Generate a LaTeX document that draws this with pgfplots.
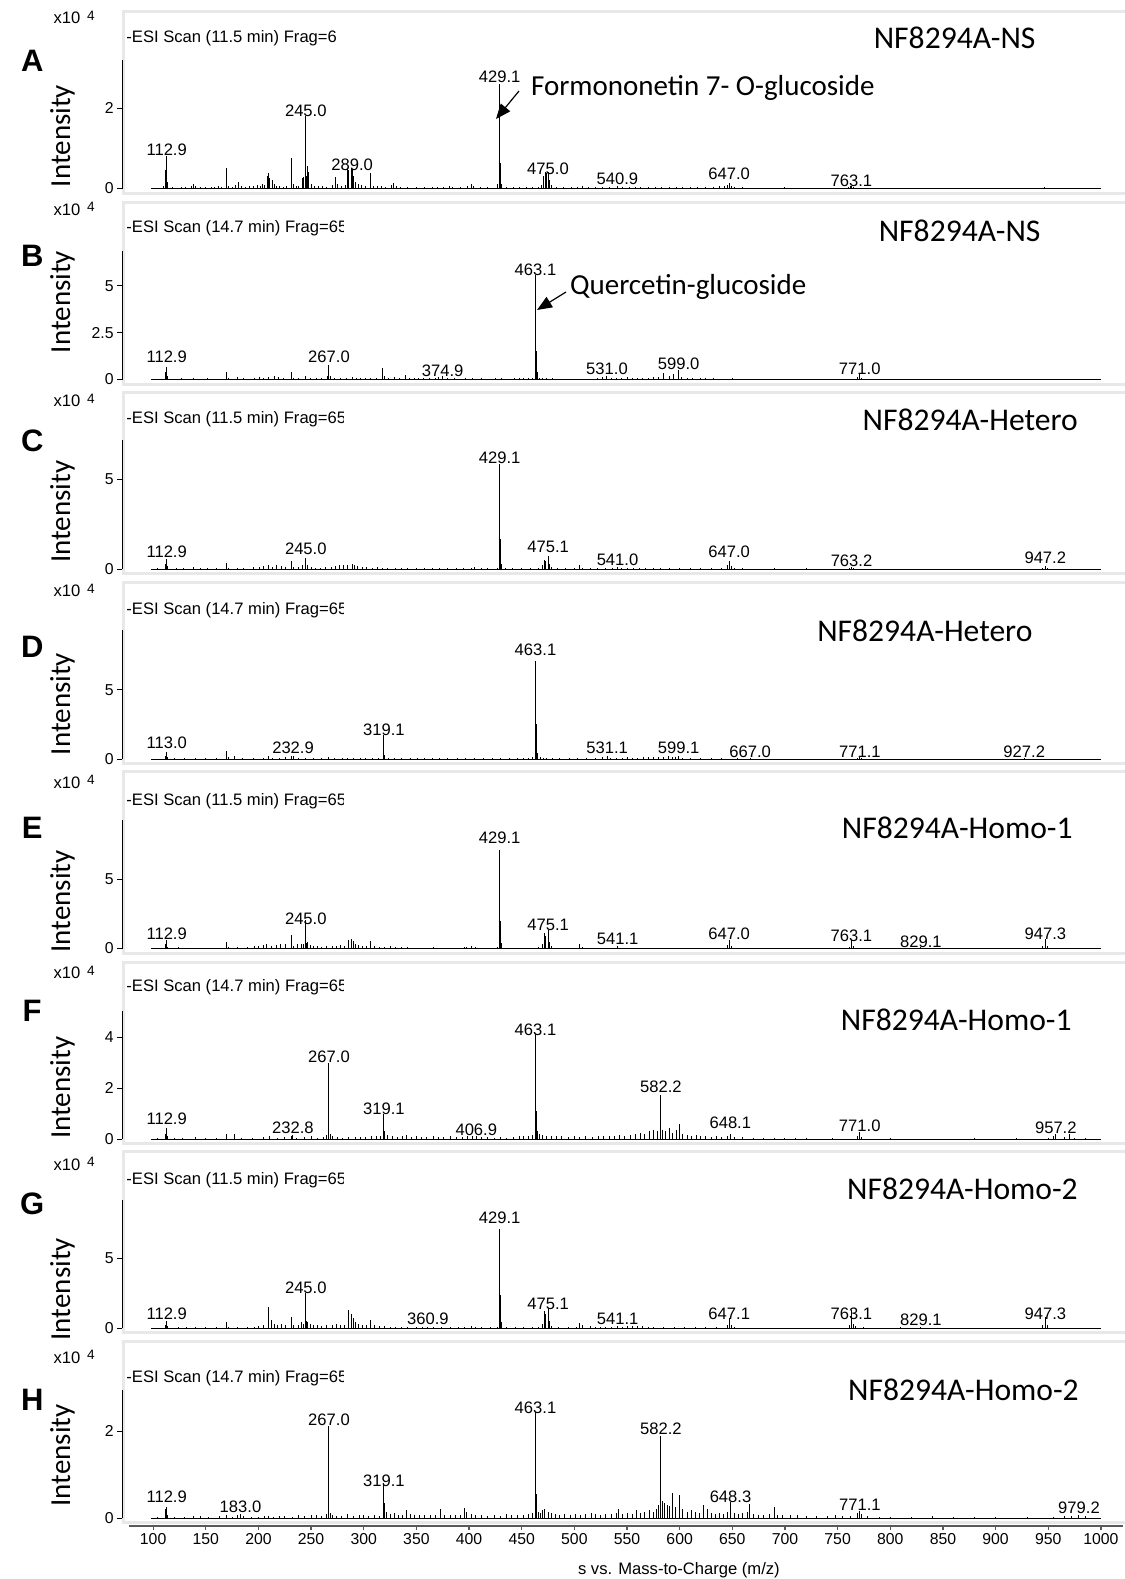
\documentclass[border=0pt]{standalone}
\usepackage{pgfplots}
\pgfplotsset{compat=1.18}
\usepackage{fontspec}
\setmainfont{Liberation Sans}
\newfontfamily\calib{Carlito}
\usetikzlibrary{arrows.meta}

\newcommand\fA{\fontsize{8.3}{9.9}\selectfont}
\newcommand\fT{\fontsize{7.9}{9.4}\selectfont}
\newcommand\fC{\calib\fontsize{14.5}{17}\selectfont}
\newcommand\fS{\calib\fontsize{15.8}{18}\selectfont}
\newcommand\pk[2]{\node[font=\fA, inner sep=0pt] at (axis cs:#1,#2) {#1};}

\pgfplotsset{
  panel/.style={scale only axis, width=500.5pt, height=64.25pt,
    xmin=70.47, xmax=1021, ymin=0, anchor=south west,
    axis lines*=left, x axis line style={draw=none}, xtick=\empty,
    y axis line style={black, line width=0.5pt},
    ytick style={black, line width=0.5pt}, tick align=outside,
    major tick length=2.5pt,
    yticklabel style={font=\fT, inner sep=1.5pt},
    /pgf/number format/assume math mode=true, clip=false},
  base/.style={black, line width=0.5pt},
  stick/.style={ycomb, black, line width=0.5pt, mark=none}
}

\begin{document}
\begin{tikzpicture}
\begin{scope}[x=0.5pt, y=-0.5pt]
\useasboundingbox (0,0) rectangle (1123,1579);
% frames
\foreach \z in {188.5,379.5,569,759,948.5,1139,1328,1518}{
  \draw[black!9, line width=1.5pt] (123.5,\z-177) rectangle (1140,\z+4.5);
}
% panel letters
\foreach \t/\yy in {A/60.4,B/255.8,C/441.2,D/646.6,E/827.9,F/1011.2,G/1203.6,H/1400}{
  \node[font=\fontsize{15.5}{18}\selectfont\bfseries] at (32.2,\yy) {\t};
}
% Intensity
\foreach \yy in {136,302,511.7,704,901.4,1087.8,1289.2,1455.4}{
  \node[font=\fC, rotate=90] at (62.4,\yy) {Intensity};
}
% x10^4
\foreach \yy in {18.1,209.5,400.9,591.2,782.6,973,1164.3,1357.7}{
  \node[font=\fA] at (67,\yy) {x10};
  \node[font=\fontsize{6.8}{8}\selectfont] at (91,\yy-2.5) {4};
}
% ESI texts
\node[font=\fA, anchor=west, inner sep=0pt] at (126,38.3) {-ESI Scan (11.5 min) Frag=6};
\begin{scope}
\clip (120,0) rectangle (343,1579);
\node[font=\fA, anchor=west, inner sep=0pt] at (126,228.6) {-ESI Scan (14.7 min) Frag=65};
\node[font=\fA, anchor=west, inner sep=0pt] at (126,419) {-ESI Scan (11.5 min) Frag=65};
\node[font=\fA, anchor=west, inner sep=0pt] at (126,610.4) {-ESI Scan (14.7 min) Frag=65};
\node[font=\fA, anchor=west, inner sep=0pt] at (126,800.7) {-ESI Scan (11.5 min) Frag=65};
\node[font=\fA, anchor=west, inner sep=0pt] at (126,987) {-ESI Scan (14.7 min) Frag=65};
\node[font=\fA, anchor=west, inner sep=0pt] at (126,1180.4) {-ESI Scan (11.5 min) Frag=65};
\node[font=\fA, anchor=west, inner sep=0pt] at (126,1377.8) {-ESI Scan (14.7 min) Frag=65};
\end{scope}
% sample names
\node[font=\fS, anchor=east] at (1042.5,38.3) {NF8294A-NS};
\node[font=\fS, anchor=east] at (1047.5,230.6) {NF8294A-NS};
\node[font=\fS, anchor=east] at (1084.8,420) {NF8294A-Hetero};
\node[font=\fS, anchor=east] at (1039.4,630.5) {NF8294A-Hetero};
\node[font=\fS, anchor=east] at (1079.7,827.9) {NF8294A-Homo-1};
\node[font=\fS, anchor=east] at (1078.7,1020.3) {NF8294A-Homo-1};
\node[font=\fS, anchor=east] at (1084.8,1188.5) {NF8294A-Homo-2};
\node[font=\fS, anchor=east] at (1085.8,1390) {NF8294A-Homo-2};
% annotations
\node[font=\fC, anchor=west] at (524,88) {Formononetin 7- O-glucoside};
\draw[-{Triangle[length=7.5pt,width=6pt]}, line width=0.6pt] (519,91) -- (496,119);
\node[font=\fC, anchor=west] at (563,287) {Quercetin-glucoside};
\draw[-{Triangle[length=7.5pt,width=6pt]}, line width=0.6pt] (566,292) -- (537,310);
% x label
\node[font=\fA, anchor=west] at (571,1570) {s vs. Mass-to-Charge (m/z)};
\end{scope}

% ---------- A ----------
\begin{axis}[panel, at={(61pt,-94.25pt)}, ymax=3.2, ytick={0,2}]
\addplot[base] coordinates {(98,0)(1000,0)};
\addplot[stick] coordinates {(105,0.02)(110,0.05)(111.9,0.45)(112.9,0.8)(113.9,0.15)(118,0.03)(124,0.02)(127,0.03)(131,0.04)(136,0.06)(138,0.1)(140,0.06)(145,0.03)(150,0.03)(155,0.04)(158,0.03)(162,0.05)(165,0.03)(170,0.52)(172,0.05)(175,0.04)(178,0.08)(181,0.15)(184,0.05)(188,0.04)(192,0.06)(195,0.05)(199,0.08)(202,0.07)(204,0.12)(206,0.08)(209,0.3)(210,0.38)(211,0.25)(213,0.2)(215,0.12)(217,0.06)(220,0.05)(224,0.04)(227,0.06)(231,0.77)(233,0.1)(236,0.06)(238,0.05)(242,0.25)(243,0.28)(245,1.8)(246,0.3)(247,0.57)(248,0.4)(250,0.1)(253,0.06)(257,0.05)(261,0.06)(265,0.04)(270,0.08)(273,0.29)(275,0.1)(279,0.05)(283,0.08)(285,0.48)(286,0.45)(288,0.5)(289,0.48)(290,0.3)(292,0.15)(295,0.1)(298,0.08)(302,0.06)(306,0.39)(309,0.05)(313,0.06)(317,0.05)(321,0.04)(326,0.08)(328,0.13)(331,0.06)(335,0.04)(342,0.03)(350,0.03)(358,0.03)(365,0.04)(370,0.03)(376,0.03)(381,0.06)(384,0.04)(392,0.03)(399,0.06)(402,0.12)(404,0.05)(411,0.04)(418,0.03)(427,0.1)(429.1,2.6)(430.1,0.63)(431,0.1)(436,0.03)(442,0.03)(448,0.04)(455,0.03)(460,0.03)(466,0.04)(469,0.08)(471,0.3)(473,0.4)(474,0.38)(475,0.42)(476,0.2)(478,0.08)(483,0.04)(490,0.03)(497,0.04)(503,0.03)(508,0.05)(513,0.03)(520,0.04)(527,0.03)(533,0.03)(540.9,0.05)(546,0.04)(552,0.03)(558,0.04)(563,0.03)(570,0.03)(577,0.04)(583,0.03)(590,0.03)(597,0.04)(603,0.03)(610,0.04)(617,0.03)(625,0.03)(632,0.04)(638,0.05)(643,0.06)(645,0.08)(647,0.13)(649,0.07)(652,0.03)(660,0.03)(680,0.02)(700,0.03)(720,0.02)(760,0.04)(762,0.05)(763.1,0.06)(765,0.03)(790,0.02)(830,0.02)(870,0.02)(910,0.02)(946,0.03)(960,0.02)};
\pk{112.9}{0.955}\pk{245.0}{1.93}\pk{289.0}{0.6}\pk{429.1}{2.79}\pk{475.0}{0.5}\pk{540.9}{0.23}\pk{647.0}{0.36}\pk{763.1}{0.2}
\end{axis}

% ---------- B ----------
\begin{axis}[panel, at={(61pt,-189.75pt)}, ymax=6.87, ytick={0,2.5,5}]
\addplot[base] coordinates {(98,0)(1000,0)};
\addplot[stick] coordinates {(104,0.03)(111.9,0.4)(112.9,0.66)(113.9,0.2)(120,0.05)(127,0.06)(138,0.08)(145,0.05)(152,0.06)(158,0.05)(170,0.4)(172,0.1)(180,0.12)(186,0.06)(196,0.1)(201,0.12)(205,0.08)(210,0.15)(215,0.2)(219,0.12)(224,0.1)(231,0.4)(233,0.1)(238,0.06)(245,0.2)(249,0.1)(255,0.08)(260,0.06)(266,0.2)(267,0.75)(268,0.2)(272,0.06)(278,0.08)(284,0.1)(289,0.15)(293,0.1)(297,0.08)(302,0.1)(306,0.06)(312,0.08)(318,0.62)(320,0.2)(324,0.08)(329,0.12)(334,0.06)(340,0.22)(343,0.08)(348,0.06)(352,0.1)(357,0.06)(362,0.08)(368,0.1)(371,0.12)(374.9,0.18)(380,0.06)(386,0.1)(391,0.05)(397,0.06)(403,0.08)(412,0.06)(418,0.05)(425,0.06)(431,0.08)(437,0.05)(443,0.1)(448,0.08)(452,0.1)(456,0.06)(460,0.1)(463.1,5.6)(464.1,1.5)(465.1,0.4)(467,0.1)(470,0.08)(474,0.06)(479,0.06)(484,0.05)(489,0.05)(495,0.04)(502,0.05)(510,0.04)(516,0.05)(522,0.06)(527,0.15)(531,0.18)(535,0.06)(540,0.08)(545,0.1)(550,0.12)(555,0.08)(560,0.1)(565,0.08)(570,0.1)(575,0.12)(580,0.15)(585,0.35)(590,0.2)(594,0.3)(599,0.5)(602,0.12)(607,0.08)(612,0.06)(620,0.08)(625,0.06)(632,0.06)(640,0.05)(650,0.06)(660,0.04)(690,0.05)(720,0.05)(750,0.03)(769,0.15)(771,0.3)(773,0.1)(800,0.03)(850,0.02)(900,0.02)(950,0.02)};
\pk{112.9}{1.23}\pk{267.0}{1.23}\pk{374.9}{0.48}\pk{463.1}{5.86}\pk{531.0}{0.58}\pk{599.0}{0.85}\pk{771.0}{0.58}
\end{axis}

% ---------- C ----------
\begin{axis}[panel, at={(61pt,-284.5pt)}, ymax=7.17, ytick={0,5}]
\addplot[base] coordinates {(98,0)(1000,0)};
\addplot[stick] coordinates {(104,0.03)(111.9,0.3)(112.9,0.55)(114,0.15)(122,0.05)(129,0.06)(138,0.1)(145,0.05)(152,0.05)(160,0.06)(170,0.35)(172,0.06)(180,0.08)(186,0.06)(195,0.1)(201,0.12)(205,0.15)(210,0.2)(213,0.12)(217,0.25)(222,0.18)(226,0.1)(231,0.47)(233,0.1)(238,0.12)(242,0.2)(245,0.6)(247,0.2)(250,0.1)(254,0.08)(259,0.06)(264,0.1)(269,0.12)(273,0.15)(277,0.2)(281,0.25)(285,0.2)(289,0.3)(291,0.2)(294,0.15)(299,0.12)(303,0.1)(308,0.08)(313,0.1)(318,0.06)(323,0.08)(330,0.06)(336,0.05)(342,0.06)(350,0.05)(358,0.04)(365,0.06)(372,0.05)(380,0.05)(388,0.06)(395,0.05)(402,0.08)(405,0.1)(412,0.05)(418,0.04)(427,0.08)(429.1,5.85)(430.1,1.7)(431.1,0.3)(435,0.05)(441,0.04)(450,0.04)(458,0.05)(466,0.06)(470,0.2)(472,0.5)(473,0.45)(475.1,0.75)(476,0.3)(478,0.1)(484,0.05)(492,0.05)(500,0.06)(505,0.22)(508,0.06)(515,0.05)(522,0.04)(530,0.05)(536,0.06)(541,0.12)(545,0.05)(550,0.06)(556,0.08)(562,0.06)(568,0.05)(575,0.06)(582,0.08)(590,0.05)(600,0.06)(610,0.04)(620,0.05)(630,0.04)(640,0.06)(645,0.2)(647,0.42)(649,0.15)(652,0.05)(660,0.03)(690,0.03)(720,0.03)(761,0.05)(763.2,0.1)(765,0.04)(800,0.02)(860,0.02)(900,0.02)(945,0.06)(947.2,0.15)(949,0.04)(980,0.02)};
\pk{112.9}{0.95}\pk{245.0}{1.12}\pk{429.1}{6.18}\pk{475.1}{1.23}\pk{541.0}{0.5}\pk{647.0}{0.95}\pk{763.2}{0.45}\pk{947.2}{0.61}
\end{axis}

% ---------- D ----------
\begin{axis}[panel, at={(61pt,-379.5pt)}, ymax=9.3, ytick={0,5}]
\addplot[base] coordinates {(98,0)(1000,0)};
\addplot[stick] coordinates {(104,0.03)(112,0.2)(113,0.5)(114,0.15)(120,0.05)(130,0.08)(140,0.06)(150,0.05)(160,0.06)(170,0.55)(172,0.12)(177,0.2)(185,0.05)(195,0.06)(205,0.08)(210,0.22)(213,0.06)(220,0.06)(226,0.12)(231,0.2)(233,0.25)(238,0.06)(245,0.08)(252,0.06)(260,0.05)(267,0.12)(272,0.05)(280,0.08)(285,0.1)(290,0.06)(297,0.08)(302,0.06)(308,0.1)(314,0.08)(319.1,1.72)(320.1,0.3)(324,0.08)(329,0.06)(336,0.1)(344,0.06)(351,0.05)(358,0.06)(365,0.05)(372,0.08)(380,0.05)(389,0.06)(397,0.04)(405,0.06)(414,0.05)(422,0.04)(430,0.06)(438,0.04)(446,0.05)(452,0.06)(456,0.1)(460,0.12)(463.1,7.1)(464.1,2.5)(465,0.4)(468,0.12)(471,0.1)(474,0.08)(479,0.06)(486,0.05)(495,0.05)(503,0.04)(512,0.05)(520,0.06)(527,0.12)(531.1,0.2)(534,0.08)(540,0.06)(546,0.1)(550,0.12)(555,0.08)(560,0.1)(566,0.12)(570,0.15)(575,0.12)(580,0.18)(585,0.15)(589,0.2)(593,0.12)(596,0.15)(599.1,0.25)(603,0.1)(610,0.06)(620,0.05)(630,0.06)(640,0.04)(655,0.05)(667,0.08)(680,0.03)(700,0.03)(720,0.03)(740,0.02)(769,0.06)(771.1,0.12)(773,0.05)(800,0.02)(850,0.02)(900,0.02)(927.2,0.06)(960,0.02)};
\pk{113.0}{1.2}\pk{232.9}{0.78}\pk{319.1}{2.09}\pk{463.1}{7.93}\pk{531.1}{0.78}\pk{599.1}{0.78}\pk{667.0}{0.55}\pk{771.1}{0.55}\pk{927.2}{0.55}
\end{axis}

% ---------- E ----------
\begin{axis}[panel, at={(61pt,-474.25pt)}, ymax=9.28, ytick={0,5}]
\addplot[base] coordinates {(98,0)(1000,0)};
\addplot[stick] coordinates {(104,0.03)(111.9,0.3)(112.9,0.6)(114,0.12)(124,0.08)(132,0.05)(140,0.06)(150,0.05)(160,0.06)(170,0.5)(172,0.1)(180,0.08)(190,0.1)(196,0.15)(200,0.2)(205,0.25)(208,0.3)(212,0.2)(217,0.25)(221,0.35)(226,0.3)(231,1.0)(233,0.2)(237,0.3)(241,0.35)(243,0.3)(245,2.05)(246,0.4)(247,0.5)(249,0.25)(252,0.2)(256,0.15)(260,0.12)(265,0.15)(270,0.2)(274,0.18)(278,0.25)(282,0.2)(286,0.6)(288,0.7)(290,0.55)(292,0.35)(295,0.25)(299,0.2)(303,0.15)(306,0.55)(310,0.15)(315,0.12)(320,0.1)(325,0.15)(330,0.1)(336,0.08)(342,0.08)(350,0.06)(358,0.06)(366,0.08)(374,0.06)(382,0.05)(390,0.06)(396,0.1)(398,0.12)(402,0.15)(406,0.1)(412,0.05)(420,0.04)(427,0.1)(429.1,7.1)(430.1,2.0)(431.1,0.4)(436,0.06)(444,0.05)(452,0.06)(460,0.06)(466,0.08)(470,0.3)(472,1.1)(473,0.9)(475.1,1.35)(476,0.5)(478,0.15)(485,0.06)(494,0.05)(502,0.06)(505,0.3)(508,0.1)(515,0.06)(525,0.05)(535,0.06)(541.1,0.2)(546,0.06)(555,0.05)(565,0.06)(575,0.05)(585,0.06)(595,0.05)(605,0.04)(615,0.06)(625,0.04)(635,0.05)(645,0.25)(647,0.65)(649,0.2)(652,0.06)(660,0.03)(700,0.03)(720,0.03)(740,0.02)(761,0.1)(763.1,0.65)(765,0.2)(767,0.06)(790,0.02)(829.1,0.08)(850,0.02)(880,0.02)(920,0.02)(945,0.2)(947.3,0.72)(949,0.2)(980,0.02)};
\pk{112.9}{1.07}\pk{245.0}{2.16}\pk{429.1}{7.98}\pk{475.1}{1.73}\pk{541.1}{0.71}\pk{647.0}{1.07}\pk{763.1}{0.92}\pk{829.1}{0.49}\pk{947.3}{1.07}
\end{axis}

% ---------- F ----------
\begin{axis}[panel, at={(61pt,-569.5pt)}, ymax=5.06, ytick={0,2,4}]
\addplot[base] coordinates {(98,0)(1000,0)};
\addplot[stick] coordinates {(104,0.03)(111.9,0.2)(112.9,0.44)(114,0.1)(120,0.03)(128,0.05)(140,0.06)(150,0.04)(160,0.05)(170,0.2)(177,0.2)(184,0.05)(194,0.04)(205,0.06)(211,0.1)(218,0.05)(225,0.08)(231,0.12)(232.8,0.15)(236,0.05)(244,0.06)(250,0.1)(256,0.05)(262,0.08)(265,0.15)(267,3.0)(268,0.2)(270,0.12)(275,0.06)(280,0.05)(286,0.06)(292,0.08)(297,0.06)(302,0.08)(307,0.1)(312,0.12)(316,0.1)(319.1,0.99)(320.1,0.3)(323,0.15)(327,0.12)(332,0.08)(337,0.12)(341,0.15)(345,0.08)(350,0.1)(355,0.08)(360,0.06)(366,0.1)(371,0.08)(376,0.06)(382,0.1)(388,0.08)(394,0.06)(399,0.12)(403,0.1)(406.9,0.12)(412,0.08)(418,0.06)(424,0.05)(430,0.06)(436,0.05)(442,0.06)(448,0.1)(452,0.12)(456,0.1)(460,0.15)(463.1,4.13)(464.1,1.1)(465.1,0.3)(467,0.2)(470,0.15)(474,0.12)(478,0.1)(483,0.12)(488,0.1)(494,0.08)(500,0.1)(505,0.08)(511,0.1)(517,0.08)(523,0.1)(528,0.12)(533,0.1)(538,0.12)(543,0.15)(548,0.12)(553,0.15)(558,0.2)(563,0.25)(567,0.2)(571,0.3)(575,0.35)(579,0.3)(582.2,1.72)(584,0.35)(587,0.3)(590,0.45)(593,0.25)(597,0.35)(600,0.6)(603,0.2)(607,0.15)(611,0.12)(616,0.15)(620,0.12)(625,0.1)(630,0.08)(635,0.1)(640,0.08)(645,0.12)(648.1,0.2)(652,0.06)(660,0.06)(670,0.05)(680,0.04)(690,0.05)(700,0.04)(710,0.04)(720,0.05)(745,0.03)(769,0.1)(771,0.28)(773,0.08)(800,0.03)(850,0.02)(880,0.03)(920,0.03)(950,0.05)(955,0.12)(957.2,0.2)(965,0.06)(970,0.2)(975,0.05)(985,0.03)};
\pk{112.9}{0.79}\pk{232.8}{0.43}\pk{267.0}{3.25}\pk{319.1}{1.18}\pk{406.9}{0.35}\pk{463.1}{4.31}\pk{582.2}{2.06}\pk{648.1}{0.63}\pk{771.0}{0.51}\pk{957.2}{0.43}
\end{axis}

% ---------- G ----------
\begin{axis}[panel, at={(61pt,-664pt)}, ymax=9.18, ytick={0,5}]
\addplot[base] coordinates {(98,0)(1000,0)};
\addplot[stick] coordinates {(104,0.03)(111.9,0.25)(112.9,0.5)(114,0.12)(124,0.06)(132,0.05)(140,0.06)(150,0.04)(160,0.06)(170,0.4)(172,0.1)(180,0.06)(190,0.08)(196,0.1)(200,0.15)(205,0.2)(210,1.5)(212,0.6)(215,0.3)(218,0.25)(222,0.3)(226,0.25)(231,0.8)(233,0.2)(238,0.25)(241,0.4)(243,0.3)(245,2.5)(246,0.5)(247,0.45)(249,0.3)(252,0.25)(256,0.2)(260,0.15)(265,0.2)(270,0.25)(274,0.3)(278,0.2)(282,0.25)(286,1.3)(288,1.0)(290,0.7)(292,0.4)(295,0.3)(299,0.25)(303,0.2)(306,0.6)(310,0.2)(315,0.15)(320,0.12)(325,0.1)(330,0.08)(336,0.1)(342,0.08)(350,0.06)(356,0.06)(360.9,0.08)(366,0.06)(374,0.05)(382,0.05)(390,0.06)(396,0.08)(402,0.12)(406,0.08)(412,0.05)(420,0.04)(427,0.1)(429.1,7.1)(430.1,2.37)(431.1,0.4)(436,0.06)(444,0.05)(452,0.06)(460,0.06)(466,0.08)(470,0.3)(472,1.2)(473,1.0)(475.1,1.45)(476,0.5)(478,0.15)(485,0.06)(494,0.05)(502,0.06)(505,0.35)(508,0.2)(515,0.12)(520,0.1)(525,0.08)(530,0.1)(535,0.08)(541.1,0.15)(546,0.1)(550,0.15)(555,0.12)(560,0.15)(565,0.12)(570,0.1)(575,0.08)(585,0.06)(595,0.05)(605,0.04)(615,0.06)(625,0.04)(635,0.05)(645,0.25)(647.1,0.7)(649,0.2)(652,0.06)(670,0.03)(700,0.03)(720,0.03)(740,0.02)(761,0.2)(763.1,1.3)(765,0.3)(767,0.12)(775,0.05)(790,0.02)(810,0.04)(829.1,0.1)(850,0.02)(880,0.02)(920,0.02)(945,0.25)(947.3,0.8)(949,0.25)(980,0.02)};
\pk{112.9}{1.0}\pk{245.0}{2.9}\pk{360.9}{0.65}\pk{429.1}{7.9}\pk{475.1}{1.75}\pk{541.1}{0.65}\pk{647.1}{1.0}\pk{763.1}{1.0}\pk{829.1}{0.58}\pk{947.3}{1.0}
\end{axis}

% ---------- H ----------
\begin{axis}[panel, at={(61pt,-759pt)}, ymax=2.96, ytick={0,2}]
\addplot[base] coordinates {(98,0)(1000,0)};
\addplot[stick] coordinates {(104,0.03)(111.9,0.2)(112.9,0.26)(114,0.08)(120,0.03)(130,0.03)(138,0.05)(145,0.05)(153,0.03)(163,0.04)(170,0.08)(175,0.03)(180,0.06)(183,0.1)(186,0.05)(193,0.03)(200,0.03)(206,0.05)(210,0.04)(214,0.03)(220,0.05)(225,0.04)(232,0.03)(238,0.06)(244,0.04)(250,0.08)(255,0.06)(260,0.05)(265,0.1)(267,2.13)(268,0.12)(270,0.08)(274,0.05)(279,0.04)(285,0.1)(290,0.05)(296,0.06)(300,0.08)(305,0.05)(310,0.06)(315,0.05)(319.1,0.8)(320.1,0.35)(322,0.15)(325,0.1)(329,0.12)(333,0.08)(337,0.06)(341,0.18)(344,0.1)(348,0.08)(353,0.06)(358,0.08)(363,0.06)(368,0.08)(373,0.2)(377,0.06)(382,0.06)(387,0.08)(392,0.06)(396,0.22)(398,0.15)(402,0.1)(406,0.06)(412,0.06)(418,0.05)(424,0.06)(430,0.05)(436,0.1)(440,0.06)(446,0.08)(452,0.06)(456,0.1)(460,0.12)(463.1,2.45)(464.1,0.55)(466,0.15)(468,0.12)(470,0.18)(472,0.2)(475,0.15)(478,0.12)(482,0.1)(486,0.08)(491,0.1)(496,0.08)(501,0.1)(506,0.08)(511,0.1)(516,0.12)(520,0.1)(525,0.08)(530,0.1)(535,0.1)(540,0.12)(542,0.2)(546,0.1)(550,0.12)(555,0.1)(559,0.18)(563,0.12)(567,0.15)(571,0.18)(575,0.15)(578,0.2)(580,0.3)(582.2,1.88)(584,0.4)(586,0.35)(588,0.3)(590,0.28)(593,0.57)(596,0.25)(600,0.52)(603,0.2)(607,0.15)(611,0.18)(615,0.15)(619,0.12)(623,0.3)(626,0.2)(630,0.12)(634,0.1)(638,0.12)(642,0.1)(645,0.15)(648.3,0.38)(652,0.12)(656,0.1)(660,0.12)(664,0.15)(666,0.33)(670,0.1)(675,0.08)(680,0.08)(685,0.1)(690,0.26)(693,0.08)(698,0.06)(705,0.06)(712,0.06)(720,0.05)(730,0.05)(740,0.04)(748,0.06)(755,0.05)(762,0.04)(769,0.12)(771.1,0.17)(773,0.1)(778,0.05)(790,0.03)(800,0.03)(820,0.03)(840,0.04)(860,0.03)(880,0.03)(900,0.03)(930,0.02)(955,0.03)(965,0.04)(972,0.05)(979.2,0.06)(985,0.04)};
\pk{112.9}{0.49}\pk{183.0}{0.26}\pk{267.0}{2.26}\pk{319.1}{0.86}\pk{463.1}{2.53}\pk{582.2}{2.05}\pk{648.3}{0.49}\pk{771.1}{0.3}\pk{979.2}{0.24}
\end{axis}

% ---------- bottom m/z axis ----------
\begin{axis}[scale only axis, width=497.1pt, height=2pt, at={(64.4pt,-763pt)}, anchor=south west,
  xmin=76.9, xmax=1021, ymin=0, ymax=1, hide y axis, axis x line*=bottom,
  x axis line style={black!65, line width=1.1pt}, xtick style={black!65, line width=0.6pt},
  tick align=outside, major tick length=2pt,
  xtick={100,150,...,1000}, xticklabel style={font=\fT, inner sep=1.5pt},
  /pgf/number format/assume math mode=true, /pgf/number format/set thousands separator={}]
\addplot[draw=none] coordinates {(100,0)(1000,0)};
\end{axis}
\end{tikzpicture}
\end{document}
